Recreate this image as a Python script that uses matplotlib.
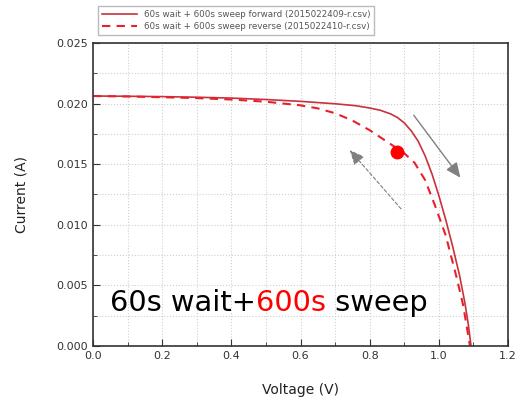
import numpy as np
import matplotlib.pyplot as plt
from matplotlib.ticker import MultipleLocator

# forward sweep (solid)
v_fwd = [0.0, 0.1, 0.2, 0.3, 0.4, 0.5, 0.6, 0.7, 0.76, 0.8, 0.83, 0.86, 0.88,
         0.9, 0.92, 0.94, 0.96, 0.98, 1.0, 1.02, 1.04, 1.06, 1.075, 1.085, 1.093]
i_fwd = [0.02062, 0.02060, 0.02057, 0.02052, 0.02045, 0.02033, 0.02018, 0.01998,
         0.01982, 0.01963, 0.01945, 0.01915, 0.01885, 0.01840, 0.01775, 0.01690,
         0.01570, 0.01420, 0.01240, 0.01040, 0.00820, 0.00580, 0.00360, 0.00180,
         0.0]

# reverse sweep (dashed)
v_rev = [0.0, 0.1, 0.2, 0.3, 0.4, 0.5, 0.6, 0.65, 0.7, 0.75, 0.8, 0.85, 0.9,
         0.93, 0.96, 0.99, 1.02, 1.05, 1.07, 1.09]
i_rev = [0.02062, 0.02058, 0.02052, 0.02045, 0.02033, 0.02015, 0.01985, 0.01960,
         0.01920, 0.01860, 0.01780, 0.01685, 0.01590, 0.01510, 0.01370, 0.01150,
         0.00910, 0.00580, 0.00340, 0.0]

dot_v, dot_i = 0.879, 0.0160

labels = ['60s wait + 600s sweep forward (2015022409-r.csv)',
          '60s wait + 600s sweep reverse (2015022410-r.csv)']

caption = [('60s wait+', 'black'), ('600s', 'red'), (' sweep', 'black')]

fig = plt.figure(figsize=(5.2, 4.01), dpi=100)
ax = fig.add_axes([0.179, 0.137, 0.798, 0.756])

l1, = ax.plot(v_fwd, i_fwd, '-', color='#c8323c', lw=1.2)
l2, = ax.plot(v_rev, i_rev, '--', color='#e8202a', lw=1.5, dashes=(4, 3))
ax.plot(dot_v, dot_i, 'o', color='red', ms=9)

# sweep direction arrows
ax.annotate('', xy=(1.067, 0.0137), xytext=(0.9225, 0.01922),
            arrowprops=dict(arrowstyle='-|>,head_length=0.9,head_width=0.4',
                            color='gray', lw=1))
ax.annotate('', xy=(0.737, 0.01634), xytext=(0.896, 0.01114),
            arrowprops=dict(arrowstyle='-|>,head_length=0.9,head_width=0.4',
                            color='gray', lw=0.8, linestyle=(0, (3, 2))))

ax.set_xlim(0, 1.2)
ax.set_ylim(0, 0.025)
ax.xaxis.set_major_locator(MultipleLocator(0.2))
ax.xaxis.set_minor_locator(MultipleLocator(0.1))
ax.yaxis.set_major_locator(MultipleLocator(0.005))
ax.yaxis.set_minor_locator(MultipleLocator(0.0025))
ax.xaxis.set_major_formatter(plt.FormatStrFormatter('%.1f'))
ax.yaxis.set_major_formatter(plt.FormatStrFormatter('%.3f'))
ax.tick_params(which='both', direction='in', labelsize=8, colors='#333333')
ax.tick_params(which='major', length=5)
ax.tick_params(which='minor', length=3)
ax.grid(True, which='both', color='#d0d0d0', linestyle=':', lw=0.8)
for s in ax.spines.values():
    s.set_color('#333333')
    s.set_linewidth(1.2)

ax.set_xlabel('Voltage (V)', fontsize=10, color='#222222', labelpad=16)
ax.set_ylabel('Current (A)', fontsize=10, color='#222222', labelpad=20)

leg = fig.legend([l1, l2], labels, loc='upper left',
                 bbox_to_anchor=(0.180, 0.995), fontsize=6.3, frameon=True,
                 fancybox=False, edgecolor='#aaaaaa', handlelength=4,
                 labelspacing=0.35, borderpad=0.45)
for t in leg.get_texts():
    t.set_color('#555555')

# big caption, pieces placed one after another
fig.canvas.draw()
r = fig.canvas.get_renderer()
xpos = 0.04
for txt, col in caption:
    t = ax.text(xpos, 0.142, txt, transform=ax.transAxes, fontsize=20.8,
                color=col, va='center')
    bb = t.get_window_extent(renderer=r)
    xpos = ax.transAxes.inverted().transform((bb.x1, bb.y0))[0]

fig.savefig('out.png', dpi=100)
